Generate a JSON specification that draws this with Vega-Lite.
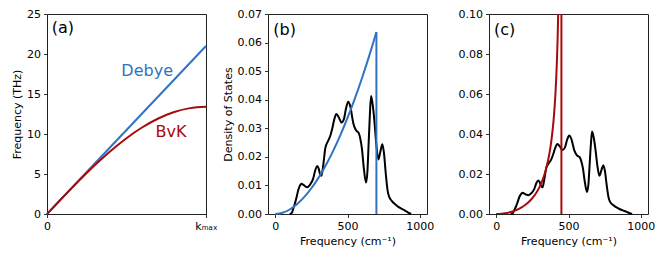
{
  "$schema": "https://vega.github.io/schema/vega-lite/v6.json",
  "padding": {"left": 11, "top": 7, "right": 5, "bottom": 5},
  "spacing": 62,
  "bounds": "flush",
  "config": {
    "font": "DejaVu Sans",
    "view": {"stroke": "#222", "strokeWidth": 1},
    "axis": {"domain": false, "grid": false, "tickSize": 3.5, "tickColor": "#000", "tickWidth": 0.8,
      "labelFont": "DejaVu Sans", "labelFontSize": 11, "labelColor": "#000", "labelPadding": 3,
      "labelOverlap": false, "labelFlush": false, "labelBound": false,
      "titleFont": "DejaVu Sans", "titleFontSize": 11, "titleFontWeight": "normal", "titleColor": "#000", "titlePadding": 4}
  },
  "datasets": {
    "dispDebye": [{"k": 0, "f": 0}, {"k": 1, "f": 21.0}],
    "dispBvK": [
      {"k": 0, "f": 0}, {"k": 0.1, "f": 2.096}, {"k": 0.2, "f": 4.141}, {"k": 0.3, "f": 6.083},
      {"k": 0.4, "f": 7.876}, {"k": 0.5, "f": 9.475}, {"k": 0.6, "f": 10.841}, {"k": 0.7, "f": 11.939},
      {"k": 0.8, "f": 12.744}, {"k": 0.9, "f": 13.235}, {"k": 1.0, "f": 13.4}
    ],
    "labelsA": [
      {"k": 0.63, "f": 17.9, "label": "Debye", "series": "Debye"},
      {"k": 0.78, "f": 10.3, "label": "BvK", "series": "BvK"}
    ],
    "dos": [
      {"w": 100, "g": 0}, {"w": 115, "g": 0.0004}, {"w": 123, "g": 0.0016}, {"w": 135, "g": 0.0035},
      {"w": 146, "g": 0.0055}, {"w": 160, "g": 0.0085}, {"w": 175, "g": 0.0103}, {"w": 182, "g": 0.0106},
      {"w": 195, "g": 0.0102}, {"w": 210, "g": 0.0096}, {"w": 222, "g": 0.0094}, {"w": 240, "g": 0.0102},
      {"w": 262, "g": 0.0123}, {"w": 278, "g": 0.0155}, {"w": 290, "g": 0.0168}, {"w": 300, "g": 0.016},
      {"w": 310, "g": 0.014}, {"w": 320, "g": 0.0134}, {"w": 332, "g": 0.017}, {"w": 347, "g": 0.0232},
      {"w": 365, "g": 0.0255}, {"w": 380, "g": 0.0272}, {"w": 395, "g": 0.03}, {"w": 408, "g": 0.033},
      {"w": 423, "g": 0.035}, {"w": 440, "g": 0.0338}, {"w": 458, "g": 0.032}, {"w": 475, "g": 0.0332},
      {"w": 490, "g": 0.037}, {"w": 505, "g": 0.0393}, {"w": 520, "g": 0.0375}, {"w": 540, "g": 0.0318},
      {"w": 560, "g": 0.0292}, {"w": 578, "g": 0.0283}, {"w": 590, "g": 0.026}, {"w": 600, "g": 0.0228},
      {"w": 612, "g": 0.0165}, {"w": 628, "g": 0.011}, {"w": 638, "g": 0.015}, {"w": 645, "g": 0.0232},
      {"w": 655, "g": 0.035}, {"w": 663, "g": 0.0413}, {"w": 675, "g": 0.038}, {"w": 686, "g": 0.0326},
      {"w": 700, "g": 0.024}, {"w": 714, "g": 0.0191}, {"w": 728, "g": 0.022}, {"w": 741, "g": 0.0244},
      {"w": 752, "g": 0.0215}, {"w": 765, "g": 0.014}, {"w": 778, "g": 0.008}, {"w": 790, "g": 0.0058},
      {"w": 806, "g": 0.0046}, {"w": 830, "g": 0.0034}, {"w": 852, "g": 0.0025}, {"w": 875, "g": 0.0018},
      {"w": 898, "g": 0.0012}, {"w": 920, "g": 0.0005}, {"w": 940, "g": 0}
    ],
    "debyeDos": [
      {"w": 0, "g": 0}, {"w": 50, "g": 0.00042}, {"w": 100, "g": 0.00158}, {"w": 150, "g": 0.00341},
      {"w": 200, "g": 0.00589}, {"w": 250, "g": 0.00901}, {"w": 300, "g": 0.01274}, {"w": 350, "g": 0.01707},
      {"w": 400, "g": 0.022}, {"w": 450, "g": 0.02751}, {"w": 500, "g": 0.03361}, {"w": 550, "g": 0.04028},
      {"w": 600, "g": 0.04753}, {"w": 650, "g": 0.05533}, {"w": 700, "g": 0.0637}
    ],
    "debyeDrop": [{"w": 700, "g": 0.0637}, {"w": 700, "g": 0}],
    "bvkDos": [
      {"w": 0, "g": 0}, {"w": 25, "g": 0.00006}, {"w": 50, "g": 0.00024}, {"w": 75, "g": 0.00054},
      {"w": 100, "g": 0.00098}, {"w": 125, "g": 0.00157}, {"w": 150, "g": 0.00233}, {"w": 175, "g": 0.00329},
      {"w": 200, "g": 0.0045}, {"w": 225, "g": 0.00602}, {"w": 250, "g": 0.00793}, {"w": 275, "g": 0.01037},
      {"w": 300, "g": 0.01357}, {"w": 320, "g": 0.01691}, {"w": 340, "g": 0.0213}, {"w": 360, "g": 0.02723},
      {"w": 375, "g": 0.03335}, {"w": 390, "g": 0.04183}, {"w": 400, "g": 0.04972}, {"w": 410, "g": 0.06055},
      {"w": 415, "g": 0.06772}, {"w": 420, "g": 0.07674}, {"w": 425, "g": 0.08839}, {"w": 430, "g": 0.1045},
      {"w": 435, "g": 0.1283}, {"w": 440, "g": 0.1677}, {"w": 445, "g": 0.258}, {"w": 449, "g": 0.645}
    ],
    "bvkDrop": [{"w": 451, "g": 0.2}, {"w": 451, "g": 0}]
  },
  "hconcat": [
    {
      "width": 159, "height": 200,
      "encoding": {
        "x": {"field": "k", "type": "quantitative", "scale": {"domain": [0, 1]},
          "axis": {"values": [0, 1], "title": null, "labelExpr": "datum.value == 0 ? '0' : 'kₘₐₓ'"}},
        "y": {"field": "f", "type": "quantitative", "scale": {"domain": [0, 25]},
          "axis": {"values": [0, 5, 10, 15, 20, 25], "labelOverlap": false, "title": "Frequency (THz)"}}
      },
      "layer": [
        {"data": {"name": "dispDebye"}, "mark": {"type": "line", "color": "#3173c0", "strokeWidth": 2}},
        {"data": {"name": "dispBvK"}, "mark": {"type": "line", "color": "#a80a0a", "strokeWidth": 2, "interpolate": "monotone"}},
        {"data": {"name": "labelsA"}, "mark": {"type": "text", "align": "center", "baseline": "middle", "fontSize": 16},
          "encoding": {"text": {"field": "label"},
            "color": {"field": "series", "type": "nominal", "legend": null, "scale": {"domain": ["Debye", "BvK"], "range": ["#3173c0", "#a80a0a"]}}}},
        {"data": {"values": [{"k": 0.03, "f": 23.2, "label": "(a)"}]}, "mark": {"type": "text", "align": "left", "baseline": "middle", "fontSize": 16, "color": "#000"},
          "encoding": {"text": {"field": "label"}}}
      ]
    },
    {
      "width": 159, "height": 200,
      "encoding": {
        "x": {"field": "w", "type": "quantitative", "scale": {"domain": [-50, 1050], "nice": false},
          "axis": {"values": [0, 500, 1000], "format": "d", "title": "Frequency (cm⁻¹)"}},
        "y": {"field": "g", "type": "quantitative", "scale": {"domain": [0, 0.07], "nice": false},
          "axis": {"values": [0, 0.01, 0.02, 0.03, 0.04, 0.05, 0.06, 0.07], "labelOverlap": false, "format": ".2f", "title": "Density of States"}}
      },
      "layer": [
        {"data": {"name": "dos"}, "mark": {"type": "line", "color": "#000", "strokeWidth": 2, "interpolate": "monotone"}},
        {"data": {"name": "debyeDos"}, "mark": {"type": "line", "color": "#3173c0", "strokeWidth": 2, "interpolate": "monotone"}},
        {"data": {"name": "debyeDrop"}, "mark": {"type": "line", "color": "#3173c0", "strokeWidth": 2}},
        {"data": {"values": [{"w": -13, "g": 0.0645, "label": "(b)"}]}, "mark": {"type": "text", "align": "left", "baseline": "middle", "fontSize": 16, "color": "#000"},
          "encoding": {"text": {"field": "label"}}}
      ]
    },
    {
      "width": 159, "height": 200,
      "encoding": {
        "x": {"field": "w", "type": "quantitative", "scale": {"domain": [-50, 1050], "nice": false},
          "axis": {"values": [0, 500, 1000], "format": "d", "title": "Frequency (cm⁻¹)"}},
        "y": {"field": "g", "type": "quantitative", "scale": {"domain": [0, 0.1], "nice": false},
          "axis": {"values": [0, 0.02, 0.04, 0.06, 0.08, 0.1], "labelOverlap": false, "format": ".2f", "title": null}}
      },
      "layer": [
        {"data": {"name": "dos"}, "mark": {"type": "line", "color": "#000", "strokeWidth": 2, "interpolate": "monotone"}},
        {"data": {"name": "bvkDos"}, "mark": {"type": "line", "color": "#a80a0a", "strokeWidth": 2, "interpolate": "monotone", "clip": true}},
        {"data": {"name": "bvkDrop"}, "mark": {"type": "line", "color": "#a80a0a", "strokeWidth": 2, "clip": true}},
        {"data": {"values": [{"w": -15, "g": 0.0922, "label": "(c)"}]}, "mark": {"type": "text", "align": "left", "baseline": "middle", "fontSize": 16, "color": "#000"},
          "encoding": {"text": {"field": "label"}}}
      ]
    }
  ]
}
